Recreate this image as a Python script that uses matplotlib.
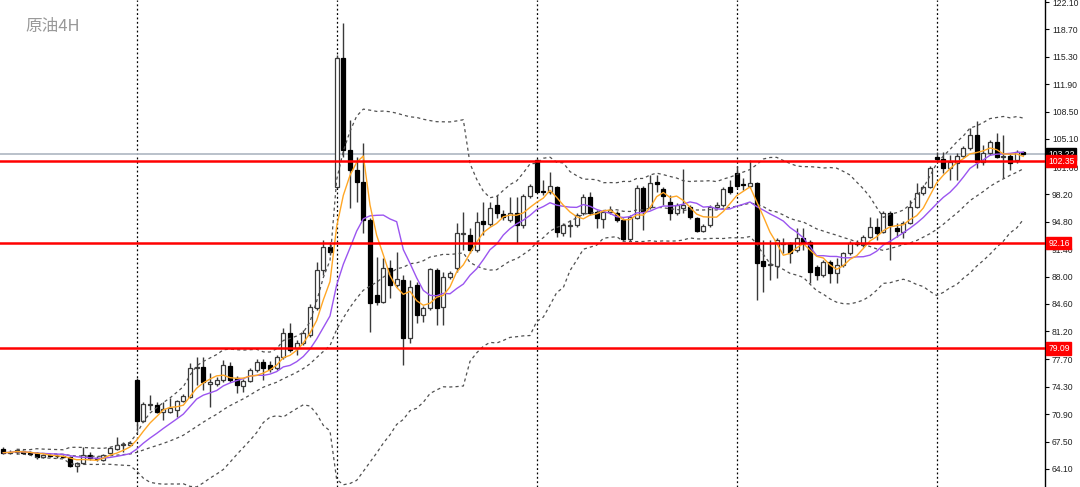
import matplotlib
matplotlib.use("Agg")
import matplotlib.pyplot as plt
import matplotlib.transforms as mtransforms
import numpy as np
import pandas as pd

plt.rcParams['font.family'] = ['Noto Sans CJK SC', 'DejaVu Sans']

# 4H candles (open, high, low, close)
opens = [66.55, 66.10, 66.21, 66.35, 66.10, 66.05, 65.55, 65.80, 65.70, 65.65,
         65.55, 64.47, 64.81, 65.84, 65.50, 65.22, 66.08, 66.58, 67.10, 67.05,
         75.15, 70.10, 72.10, 72.05, 71.22, 71.22, 71.43, 72.55, 73.08, 76.60,
         76.80, 74.65, 74.65, 75.15, 76.90, 75.40, 74.41, 75.07, 76.40, 77.43,
         77.00, 76.64, 78.05, 81.00, 79.13, 79.75, 80.74, 84.10, 88.82, 91.71,
         99.16, 115.11, 103.72, 101.24, 99.78, 95.03, 85.71, 84.88, 89.06, 86.95,
         87.57, 80.37, 86.95, 83.23, 84.10, 88.82, 84.22, 87.95, 89.06, 93.30,
         93.16, 91.30, 94.90, 94.53, 96.89, 95.80, 95.03, 95.90, 94.40, 98.00,
         102.48, 98.60, 98.54, 99.16, 93.45, 94.30, 94.40, 95.93, 97.92, 96.06,
         95.11, 96.06, 95.86, 95.03, 92.63, 95.28, 99.00, 96.68, 99.78, 98.88,
         97.30, 95.93, 96.48, 96.68, 95.24, 93.70, 94.40, 96.60, 96.89, 99.16,
         100.82, 99.40, 99.25, 99.66, 89.97, 89.40, 89.31, 92.10, 92.13, 91.30,
         92.75, 92.33, 89.23, 88.20, 89.85, 88.40, 89.44, 90.89, 92.10, 91.92,
         92.95, 94.12, 93.57, 95.93, 94.00, 93.57, 94.69, 96.68, 98.34, 99.16,
         102.89, 102.57, 101.45, 102.14, 102.98, 103.93, 105.58, 102.27, 103.31, 104.75,
         102.90, 102.98, 102.48, 103.45]
highs = [66.80, 66.40, 66.60, 66.50, 66.30, 66.25, 66.00, 65.95, 65.90, 65.80,
         65.71, 64.97, 66.80, 66.20, 65.70, 66.00, 66.80, 68.03, 67.50, 67.60,
         75.40, 72.46, 73.29, 72.46, 72.46, 72.88, 72.70, 73.40, 77.30, 78.05,
         78.05, 76.00, 75.50, 77.64, 77.40, 75.60, 75.30, 76.70, 77.70, 77.70,
         77.50, 78.30, 81.60, 82.23, 80.12, 81.30, 84.60, 89.85, 92.54, 92.30,
         115.50, 119.53, 107.45, 102.89, 104.55, 95.30, 90.47, 90.30, 90.06, 91.09,
         88.20, 87.57, 87.33, 84.40, 89.06, 89.06, 88.60, 88.70, 94.62, 96.06,
         94.00, 96.06, 97.30, 97.30, 98.13, 96.30, 97.92, 97.92, 98.30, 99.50,
         102.60, 100.00, 101.02, 99.25, 94.60, 95.03, 95.90, 98.20, 98.54, 96.30,
         96.30, 96.77, 96.10, 95.30, 95.60, 99.37, 99.30, 100.62, 100.62, 99.10,
         98.13, 97.10, 101.32, 96.90, 95.40, 94.50, 96.90, 97.30, 99.10, 100.00,
         101.73, 100.20, 102.48, 99.80, 92.54, 92.54, 92.75, 92.75, 92.30, 94.00,
         94.00, 92.50, 89.40, 90.00, 90.00, 90.27, 91.10, 92.40, 92.54, 93.10,
         95.44, 95.24, 96.10, 96.10, 94.69, 94.90, 97.51, 99.58, 99.40, 101.70,
         103.51, 103.51, 103.10, 103.35, 104.20, 106.42, 107.36, 104.34, 105.00, 105.79,
         105.58, 103.20, 103.72, 103.55]
lows = [65.96, 65.90, 66.00, 65.90, 65.80, 65.35, 65.40, 65.55, 65.50, 65.40,
        64.32, 63.77, 64.70, 65.20, 65.10, 65.10, 65.90, 66.50, 66.20, 66.90,
        68.94, 69.98, 71.43, 71.02, 70.19, 71.00, 70.60, 72.40, 72.90, 74.53,
        73.91, 71.84, 74.40, 74.90, 74.90, 73.54, 73.70, 74.90, 76.20, 75.15,
        76.20, 76.40, 77.80, 78.60, 78.26, 79.50, 80.50, 83.90, 88.20, 90.70,
        98.96, 102.89, 96.52, 97.30, 93.41, 81.15, 84.47, 84.68, 85.34, 86.74,
        77.02, 79.75, 82.23, 82.39, 83.85, 81.99, 81.99, 87.70, 88.60, 91.30,
        90.89, 91.10, 93.16, 94.30, 95.24, 95.00, 94.81, 92.13, 94.03, 97.80,
        98.50, 98.13, 98.30, 92.95, 93.04, 92.95, 94.20, 95.70, 95.60, 94.00,
        94.00, 95.80, 94.80, 92.45, 92.40, 95.10, 93.78, 96.40, 98.54, 96.89,
        95.03, 95.70, 95.93, 95.10, 93.53, 93.50, 94.20, 96.40, 96.70, 98.30,
        99.00, 98.75, 99.00, 85.09, 86.12, 87.57, 87.82, 90.89, 89.72, 91.10,
        91.30, 87.20, 87.57, 88.00, 87.16, 87.16, 89.20, 90.70, 91.76, 91.70,
        92.80, 92.54, 93.40, 90.06, 92.95, 92.75, 94.50, 96.50, 98.10, 99.00,
        102.23, 100.82, 100.00, 100.00, 102.80, 103.70, 101.45, 101.86, 103.10, 102.70,
        100.20, 101.24, 102.07, 103.10]
closes = [66.12, 66.20, 66.46, 66.10, 65.95, 65.55, 65.84, 65.70, 65.65, 65.60,
          64.47, 64.81, 65.84, 65.43, 65.30, 65.84, 66.67, 67.08, 67.20, 67.37,
          70.10, 72.17, 72.20, 71.22, 71.52, 71.64, 72.55, 73.17, 76.60, 76.70,
          74.94, 74.94, 75.15, 77.02, 75.15, 74.53, 75.07, 76.40, 77.43, 76.64,
          76.50, 78.05, 81.00, 78.88, 79.75, 81.00, 84.26, 88.82, 91.71, 91.09,
          115.11, 103.72, 101.24, 99.78, 95.03, 84.68, 84.88, 89.06, 86.95, 87.70,
          80.37, 86.74, 83.23, 84.13, 88.94, 84.10, 87.95, 88.48, 93.41, 93.32,
          91.30, 94.81, 94.53, 96.52, 95.86, 95.40, 95.90, 94.40, 98.00, 99.25,
          98.54, 98.55, 99.25, 93.57, 94.40, 94.32, 95.65, 97.92, 95.86, 95.24,
          96.06, 96.27, 95.03, 92.63, 95.40, 99.00, 96.06, 99.66, 99.50, 98.00,
          95.93, 96.89, 96.89, 95.36, 93.70, 94.28, 96.68, 96.89, 98.88, 98.54,
          99.25, 99.37, 99.66, 89.72, 89.31, 89.50, 92.54, 92.15, 90.89, 92.75,
          92.13, 88.60, 88.20, 89.85, 88.40, 89.44, 90.89, 92.13, 92.05, 92.95,
          94.12, 93.45, 95.93, 94.40, 93.70, 94.69, 96.68, 98.34, 99.16, 101.45,
          102.57, 101.45, 102.27, 102.98, 103.93, 105.58, 102.27, 103.31, 104.75, 102.89,
          102.95, 102.07, 103.51, 103.22]

level_lines = [102.35, 92.16, 79.09]
last_price = 103.22
week_starts = [20, 50, 80, 110, 140]
price_ticks = [122.10, 118.70, 115.30, 111.90, 108.50, 105.10, 101.60, 98.20, 94.80,
               91.40, 88.00, 84.60, 81.20, 77.70, 74.30, 70.90, 67.50, 64.10]
title = "原油4H"

df = pd.DataFrame({"open": opens, "high": highs, "low": lows, "close": closes})
x = np.arange(len(df))

# indicators: SMA 5, SMA 10, Bollinger(20, 2)
ma5 = df["close"].rolling(5, min_periods=1).mean()
ma10 = df["close"].rolling(10, min_periods=1).mean()
mid = df["close"].rolling(20, min_periods=3).mean()
sd = df["close"].rolling(20, min_periods=3).std(ddof=0)
upper = mid + 2 * sd
lower = mid - 2 * sd

fig = plt.figure(figsize=(10.8, 4.87), dpi=100)
ax = fig.add_axes([0, 0, 1045 / 1080, 1])

# candles
up = df["close"] >= df["open"]
ax.vlines(x, df["low"], df["high"], color="#3a3a3a", lw=1, zorder=2)
body_h = (df["close"] - df["open"]).abs().clip(lower=0.12)
body_b = df[["open", "close"]].min(axis=1)
ax.bar(x[up], body_h[up], bottom=body_b[up], width=0.62, color="white",
       edgecolor="#3a3a3a", linewidth=0.9, zorder=3)
ax.bar(x[~up], body_h[~up], bottom=body_b[~up], width=0.62, color="black",
       edgecolor="black", linewidth=0.9, zorder=3)

# bands and moving averages
for band in (upper, mid, lower):
    ax.plot(x, band, color="#505050", lw=0.9, ls=(0, (2.5, 2.5)), zorder=4)
ax.plot(x, ma10, color="#9b55f0", lw=1.0, zorder=5)
ax.plot(x, ma5, color="#ffa726", lw=1.0, zorder=6)

# week separators
for w in week_starts:
    ax.axvline(w, color="black", lw=0.9, ls=(0, (1.5, 2)), zorder=1)

# bid line and support/resistance lines
ax.axhline(last_price, color="#b4bcc6", lw=1.3, zorder=1)
for lv in level_lines:
    ax.axhline(lv, color="#ff0000", lw=1.8, zorder=7)

ax.set_xlim(-0.5, 156.25)
ax.set_ylim(61.86, 122.35)

for s in ["left", "top", "bottom"]:
    ax.spines[s].set_visible(False)
ax.spines["right"].set_color("black")
ax.spines["right"].set_linewidth(1.0)
ax.set_xticks([])
ax.yaxis.tick_right()
ax.set_yticks(price_ticks)
ax.set_yticklabels(["%.2f" % t for t in price_ticks])
ax.tick_params(axis="y", direction="out", length=3, width=0.8, pad=2,
               labelsize=6.2, labelcolor="#222222", colors="black")
for lab in ax.get_yticklabels():
    lab.set_family("Liberation Sans")

# price tags on the right axis
trans = mtransforms.blended_transform_factory(ax.transAxes, ax.transData)
ax.text(1.003, last_price, "%.2f" % last_price, transform=trans, fontsize=6.2,
        color="white", va="center", ha="left", family="Liberation Sans", zorder=10,
        bbox=dict(boxstyle="square,pad=0.2", fc="black", ec="black"), clip_on=False)
for lv in level_lines:
    ax.text(1.003, lv, "%.2f" % lv, transform=trans, fontsize=6.2,
            color="white", va="center", ha="left", family="Liberation Sans", zorder=11,
            bbox=dict(boxstyle="square,pad=0.2", fc="#ff0000", ec="#ff0000"), clip_on=False)

fig.text(25 / 1080, 1 - 27 / 487, title, fontsize=12, color="#999999",
         va="center", ha="left")

fig.savefig("out.png", dpi=100)
